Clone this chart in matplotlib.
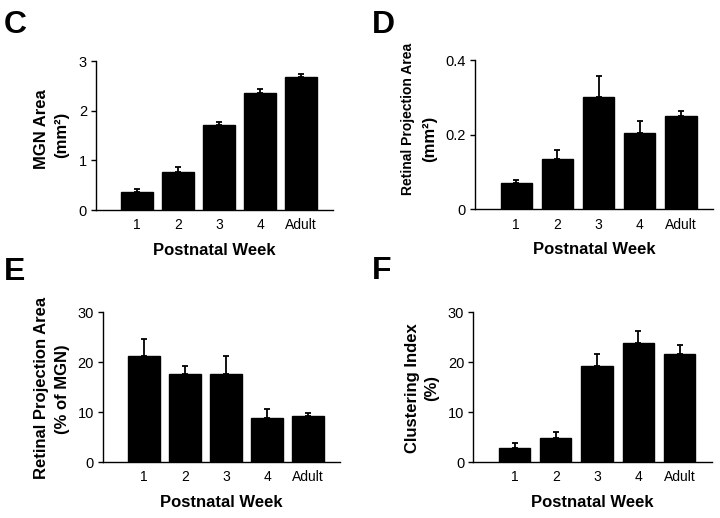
import numpy as np
import matplotlib
matplotlib.use('Agg')
import matplotlib.pyplot as plt

plt.rcParams['font.family'] = ['Liberation Sans', 'DejaVu Sans']

# data
weeks = ['1', '2', '3', '4', 'Adult']
mgn_area = [0.36, 0.77, 1.72, 2.36, 2.68]
mgn_area_err = [0.06, 0.09, 0.05, 0.07, 0.06]
proj_area = [0.070, 0.136, 0.301, 0.204, 0.249]
proj_area_err = [0.009, 0.024, 0.056, 0.032, 0.014]
proj_pct = [21.3, 17.7, 17.7, 8.9, 9.2]
proj_pct_err = [3.3, 1.5, 3.6, 1.7, 0.7]
cluster = [2.8, 4.8, 19.2, 23.9, 21.7]
cluster_err = [1.0, 1.3, 2.5, 2.4, 1.8]

W, H = 720, 518
fig = plt.figure(figsize=(W / 100, H / 100), dpi=100)


def panel(rect, vals, errs, yticks, yticklabels, ylabel_lines, letter, letter_xy):
    l, r, b, t = rect
    ax = fig.add_axes([l / W, 1 - b / H, (r - l) / W, (b - t) / H])
    x = np.arange(len(vals))
    ax.bar(x, vals, width=0.76, color='black', edgecolor='black')
    ax.errorbar(x, vals, yerr=[np.zeros(len(vals)), errs], fmt='none',
                ecolor='black', elinewidth=1.3, capsize=2.5, capthick=1.3)
    ax.set_xlim(-1.0, 4.78)
    ax.set_ylim(0, yticks[-1])
    ax.set_xticks(x)
    ax.set_xticklabels(weeks)
    ax.set_yticks(yticks)
    ax.set_yticklabels(yticklabels)
    for s in ['top', 'right']:
        ax.spines[s].set_visible(False)
    for s in ['left', 'bottom']:
        ax.spines[s].set_linewidth(1.0)
    ax.tick_params(axis='x', length=0, pad=6, labelsize=10)
    ax.tick_params(axis='y', length=3.5, width=1.0, pad=3, labelsize=10.5)
    ax.set_xlabel('Postnatal Week', fontsize=12, fontweight='bold', labelpad=7.5)
    # y label lines placed one by one (pixel centres)
    for txt, lx, ly, size in ylabel_lines:
        fig.text(lx / W, 1 - ly / H, txt, rotation=90, ha='center', va='center',
                 fontsize=size, fontweight='bold')
    fig.text(letter_xy[0] / W, 1 - letter_xy[1] / H, letter, fontsize=23,
             fontweight='bold', va='baseline', ha='left')
    return ax


panel((96, 333, 210, 61), mgn_area, mgn_area_err, [0, 1, 2, 3],
      ['0', '1', '2', '3'],
      [('MGN Area', 42, 129, 12), ('(mm²)', 62, 135, 12)], 'C', (4, 33))
panel((475, 713, 209.3, 60), proj_area, proj_area_err, [0, 0.2, 0.4],
      ['0', '0.2', '0.4'],
      [('Retinal Projection Area', 408, 118.5, 10), ('(mm²)', 430, 139, 12)],
      'D', (372, 33))
panel((103, 340, 462, 312.3), proj_pct, proj_pct_err, [0, 10, 20, 30],
      ['0', '10', '20', '30'],
      [('Retinal Projection Area', 42, 387.5, 12), ('(% of MGN)', 63, 389, 12)],
      'E', (4, 280))
panel((473.3, 711.7, 462, 312.3), cluster, cluster_err, [0, 10, 20, 30],
      ['0', '10', '20', '30'],
      [('Clustering Index', 412, 388, 12), ('(%)', 432, 388, 12)], 'F', (372, 279))

fig.savefig('out.png', dpi=100)
